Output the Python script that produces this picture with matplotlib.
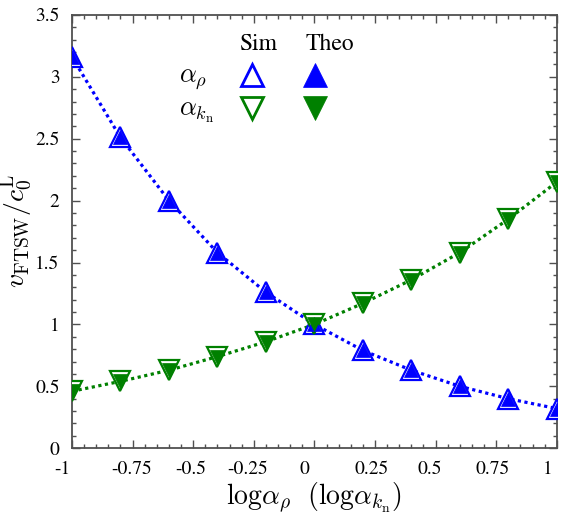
import numpy as np
import matplotlib
matplotlib.use('Agg')
import matplotlib.pyplot as plt
import matplotlib.transforms as mtrans
from matplotlib.ticker import MultipleLocator

plt.rcParams['font.family'] = ['STIXGeneral', 'DejaVu Serif']
plt.rcParams['mathtext.fontset'] = 'cm'

# data
log_alpha = [-1.0, -0.8, -0.6, -0.4, -0.2, 0.0, 0.2, 0.4, 0.6, 0.8, 1.0]
v_rho = [3.16, 2.51, 2.00, 1.58, 1.26, 1.00, 0.79, 0.63, 0.50, 0.40, 0.32]
v_kn = [0.46, 0.54, 0.63, 0.74, 0.86, 1.00, 1.17, 1.36, 1.58, 1.85, 2.15]

xticks = [-1, -0.75, -0.5, -0.25, 0, 0.25, 0.5, 0.75, 1]
xticklabels = ['-1', '-0.75', '-0.5', '-0.25', '0', '0.25', '0.5', '0.75', '1']
yticks = [0, 0.5, 1, 1.5, 2, 2.5, 3, 3.5]
yticklabels = ['0', '0.5', '1', '1.5', '2', '2.5', '3', '3.5']

blue = '#0000ff'
green = '#008000'
frame = '#505050'

fig = plt.figure(figsize=(5.67, 5.14), dpi=100)
ax = fig.add_axes([0.127, 0.128, 0.855, 0.843])

# theory curves (dotted)
ax.plot(log_alpha, v_rho, color=blue, lw=2.3, linestyle=(0, (1, 1.1)), zorder=2)
ax.plot(log_alpha, v_kn, color=green, lw=2.3, linestyle=(0, (1, 1.1)), zorder=2)

# sim (open) and theo (filled)
ax.plot(log_alpha, v_rho, '^', ms=15, mfc='white', mec=blue, mew=1.6, ls='none', zorder=3)
ax.plot(log_alpha, v_kn, 'v', ms=15, mfc='white', mec=green, mew=1.6, ls='none', zorder=3)
ax.plot(log_alpha, v_rho, '^', ms=10, mfc=blue, mec=blue, mew=0.5, ls='none', zorder=4)
ax.plot(log_alpha, v_kn, 'v', ms=10, mfc=green, mec=green, mew=0.5, ls='none', zorder=4)

ax.set_xlim(-1, 1)
ax.set_ylim(0, 3.5)

ax.set_xticks(xticks)
ax.set_xticklabels(xticklabels)
ax.set_yticks(yticks)
ax.set_yticklabels(yticklabels)
ax.xaxis.set_minor_locator(MultipleLocator(0.05))
ax.yaxis.set_minor_locator(MultipleLocator(0.1))
ax.tick_params(which='both', direction='in', top=True, right=True, color=frame,
               labelsize=14, pad=9)
ax.tick_params(which='major', length=6, width=1.0)
ax.tick_params(which='minor', length=3, width=1.0)
for s in ax.spines.values():
    s.set_color(frame)
    s.set_linewidth(1.3)

# shift x tick labels a bit like the original
shifts = [-10, -1, -2, -6, -10, -3, -6, -4, -9]
for lab, dx in zip(ax.get_xticklabels(), shifts):
    lab.set_transform(lab.get_transform() + mtrans.ScaledTranslation(dx / 100, 0, fig.dpi_scale_trans))

ax.set_xlabel(r'$\mathrm{log}\alpha_{\rho}\ \ (\mathrm{log}\alpha_{k_{\mathrm{n}}})$', fontsize=20, labelpad=2)
ax.set_ylabel(r'$v_{\mathrm{FTSW}}/c_0^{\mathrm{L}}$', fontsize=20, labelpad=1)

# legend built by hand
ta = ax.transAxes
ax.text(0.384, 0.932, 'Sim', transform=ta, fontsize=17, ha='center', va='center')
ax.text(0.532, 0.932, 'Theo', transform=ta, fontsize=17, ha='center', va='center')
ax.text(0.25, 0.852, r'$\alpha_\rho$', transform=ta, fontsize=19, ha='center', va='center')
ax.text(0.258, 0.775, r'$\alpha_{k_{\mathrm{n}}}$', transform=ta, fontsize=19, ha='center', va='center')
ax.plot([0.372], [0.862], '^', ms=16.5, mfc='white', mec=blue, mew=2, transform=ta, clip_on=False)
ax.plot([0.502], [0.862], '^', ms=17.5, mfc=blue, mec=blue, mew=0.5, transform=ta, clip_on=False)
ax.plot([0.372], [0.786], 'v', ms=16.5, mfc='white', mec=green, mew=2, transform=ta, clip_on=False)
ax.plot([0.502], [0.786], 'v', ms=17.5, mfc=green, mec=green, mew=0.5, transform=ta, clip_on=False)

fig.savefig('out.png', dpi=100)
